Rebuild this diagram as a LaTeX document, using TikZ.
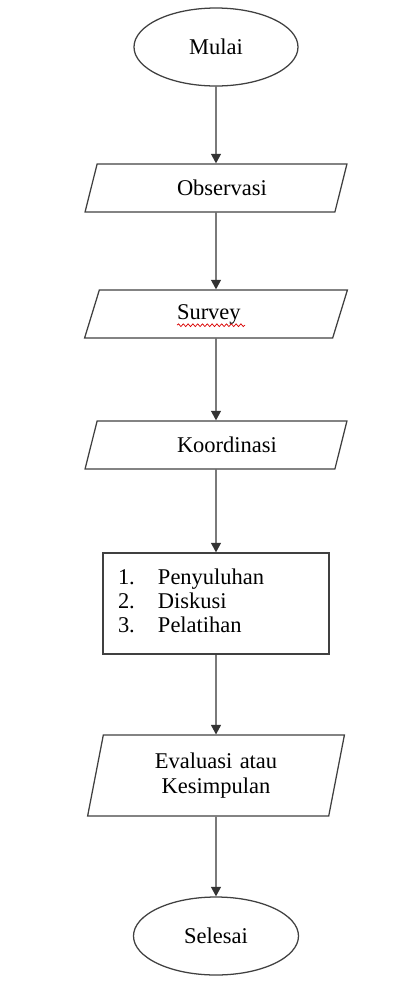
\documentclass[tikz,border=0pt]{standalone}
\usepackage{fontspec}
\setmainfont{Liberation Serif}
\usepackage{tikz}
\usetikzlibrary{arrows.meta,shapes.geometric,calc,decorations.pathmorphing}

\begin{document}
\begin{tikzpicture}[font=\fontsize{16}{17.3}\selectfont, >={Triangle[length=2.4mm,width=2.5mm]},
  line width=0.9pt,
  terminal/.style={draw=black!75, ellipse, minimum width=4.1cm, minimum height=1.95cm, inner sep=0pt},
  databox/.style={draw=black!75, trapezium, trapezium left angle=76, trapezium right angle=104,
    trapezium stretches=true, minimum width=6.575cm, minimum height=1.2cm, inner sep=0pt,
    text width=1.95cm, align=left},
  stepbox/.style={draw=black!75, rectangle, minimum width=5.65cm, minimum height=2.525cm,
    inner sep=0pt, text width=4.9cm, align=left}]
  \useasboundingbox (0,0) rectangle (10.05,-24.9);
  \node[terminal] (mulai) at (5.4,-1.175) {Mulai};
  \node[databox] (obs) at (5.4,-4.7) {Observasi};
  \node[databox] (survey) at (5.4,-7.85) {Survey};
  \node[databox] (koor) at (5.4,-11.125) {Koordinasi};
  \node[stepbox] (kegiatan) at (5.4,-15.0875) {%
    \begin{tabular}{@{}p{1cm}@{}l@{}}
      1. & Penyuluhan\\
      2. & Diskusi\\
      3. & Pelatihan
    \end{tabular}};
  \node[databox, minimum width=6.425cm, minimum height=2.025cm, text width=4cm, align=center]
    (evaluasi) at (5.4,-19.39) {Evaluasi atau\\Kesimpulan};
  \node[terminal, minimum width=4.125cm] (selesai) at (5.4,-23.4) {Selesai};
  % spell-check underline
  \draw[red!85!black, line width=0.5pt, decorate, decoration={snake, segment length=1.2mm, amplitude=0.35mm}]
    ($(survey.center)+(-0.975,-0.28)$) -- ++(1.7,0);
  \foreach \a/\b in {mulai/obs, obs/survey, survey/koor, koor/kegiatan, kegiatan/evaluasi, evaluasi/selesai}
    \draw[->, black!80] (\a) -- (\b);
\end{tikzpicture}
\end{document}
